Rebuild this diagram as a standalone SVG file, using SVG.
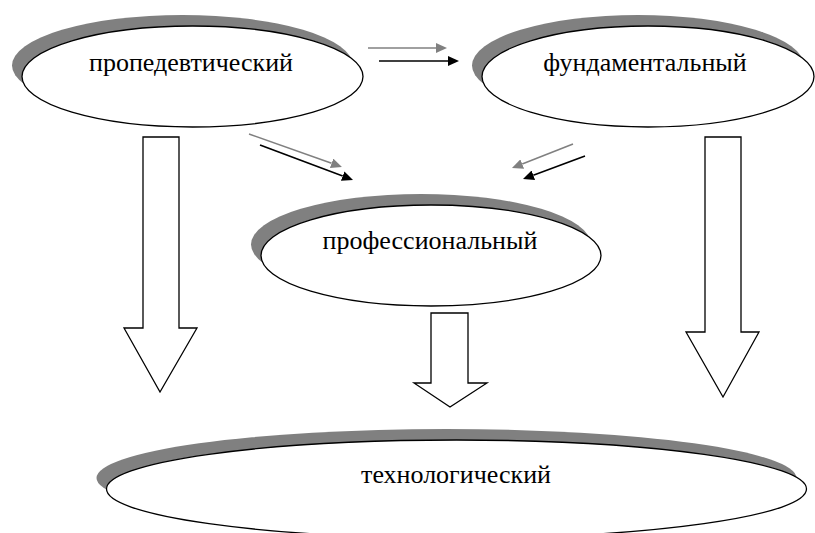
<svg xmlns="http://www.w3.org/2000/svg" width="815" height="533" viewBox="0 0 815 533">
<style>
.sh{fill:#808080;stroke:none}
.el{fill:#ffffff;stroke:#000000;stroke-width:1.3}
.lbl{font-family:"Liberation Serif","Times New Roman",serif;font-size:26px;fill:#000000;text-anchor:middle}
.blk{fill:#ffffff;stroke:#000000;stroke-width:1.3;stroke-linejoin:miter}
.ln-g{stroke:#808080;stroke-width:1.6;fill:none;marker-end:url(#hg)}
.ln-b{stroke:#000000;stroke-width:1.6;fill:none;marker-end:url(#hb)}
</style>
<defs>
<marker id="hg" viewBox="0 -5 11 10" refX="0" refY="0" markerWidth="11" markerHeight="10" markerUnits="userSpaceOnUse" orient="auto">
<path d="M0,-5 L11,0 L0,5 z" fill="#808080"/>
</marker>
<marker id="hb" viewBox="0 -5 11 10" refX="0" refY="0" markerWidth="11" markerHeight="10" markerUnits="userSpaceOnUse" orient="auto">
<path d="M0,-5 L11,0 L0,5 z" fill="#000000"/>
</marker>
</defs>
<rect x="0" y="0" width="815" height="533" fill="#ffffff"/>

<g id="node-tehnologicheskiy">
<ellipse class="sh" cx="446.5" cy="478" rx="350" ry="49"/>
<ellipse class="el" cx="456.5" cy="489" rx="350" ry="49"/>
<text class="lbl" x="456" y="483">технологический</text>
</g>

<g id="node-propedevticheskiy">
<ellipse class="sh" cx="182.5" cy="65.5" rx="170.5" ry="50.5"/>
<ellipse class="el" cx="192.5" cy="76.5" rx="170.5" ry="50.5"/>
<text class="lbl" x="191" y="71">пропедевтический</text>
</g>

<g id="node-fundamentalnyy">
<ellipse class="sh" cx="638" cy="65.5" rx="166" ry="50.5"/>
<ellipse class="el" cx="648" cy="76.5" rx="166" ry="50.5"/>
<text class="lbl" x="645" y="71">фундаментальный</text>
</g>

<g id="node-professionalnyy">
<ellipse class="sh" cx="421" cy="244.5" rx="170" ry="50.5"/>
<ellipse class="el" cx="431" cy="255.5" rx="170" ry="50.5"/>
<text class="lbl" x="430" y="249">профессиональный</text>
</g>

<g id="connectors">
<polygon class="blk" points="143,137 179,137 179,328 197,328 160,392 124,328 143,328"/>
<polygon class="blk" points="431,313 468,313 468,383 487,383 450,407 414,383 431,383"/>
<polygon class="blk" points="705,137 741,137 741,332 759,332 723,397 686,332 705,332"/>
<line class="ln-g" x1="368" y1="48" x2="436" y2="48"/>
<line class="ln-b" x1="379" y1="61" x2="448" y2="61"/>
<line class="ln-g" x1="249" y1="134" x2="331.6" y2="163.3"/>
<line class="ln-b" x1="260" y1="145" x2="342.7" y2="176.1"/>
<line class="ln-g" x1="573" y1="144" x2="522.2" y2="164"/>
<line class="ln-b" x1="585" y1="156" x2="533.3" y2="175.2"/>
</g>
</svg>
